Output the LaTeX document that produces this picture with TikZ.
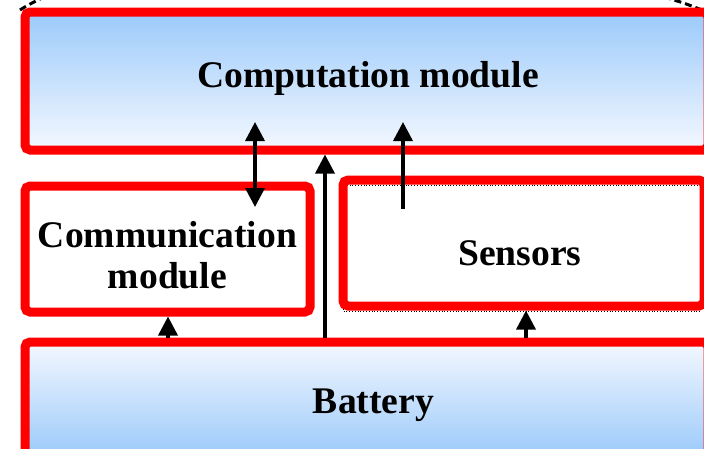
\documentclass[tikz,border=0pt]{standalone}
\usepackage{fontspec}
\setmainfont{Liberation Serif}
\usetikzlibrary{arrows.meta}
\definecolor{skyA}{RGB}{155,202,250}
\definecolor{skyB}{RGB}{244,248,255}
\begin{document}
\begin{tikzpicture}[x=1pt,y=-1pt,
  box/.style={draw=red, line width=9pt, rounded corners=5pt, inner sep=0pt},
  lbl/.style={font=\bfseries\fontsize{37.6}{41}\selectfont, inner sep=0pt, text=black},
  tip/.tip={Triangle[length=19pt,width=19pt]},
  arr/.style={line width=3.5pt, -tip},
  dashline/.style={line width=3pt, dash pattern=on 7pt off 4pt}]
\useasboundingbox (0,0) rectangle (704,448);
\clip (0,0) rectangle (704,448);
% outer dashed outline (only its corners are visible)
\draw[dashline] (20,10) .. controls (28,5) .. (44,-3);
\draw[dashline] (664,-3) .. controls (684,3) .. (702,10);
% dotted outline behind the sensors box
\draw[line width=0.8pt, dotted] (343,185.5) rectangle (700,311);
% boxes
\node[box, top color=skyA, bottom color=skyB, minimum width=683pt, minimum height=138pt] (comp) at (366.5,81) {};
\node[box, minimum width=285pt, minimum height=126pt] (comm) at (167.5,249) {};
\node[box, minimum width=361pt, minimum height=126pt] (sens) at (523.5,243) {};
\node[box, top color=skyB, bottom color=skyA, minimum width=683pt, minimum height=114.5pt] (batt) at (366.5,399.25) {};
% labels
\node[lbl, anchor=base] (tcomp) at (368,87) {Computation module};
\node[lbl, anchor=north, align=center] (tcomm) at (167.5,221.5) {Communication\\module};
\node[lbl, anchor=base] (tsens) at (520,265) {Sensors};
\node[lbl, anchor=base] (tbatt) at (373.5,413) {Battery};
% connectors
\coordinate (d1) at (255,122);
\coordinate (d2) at (255,207);
\draw[line width=3.5pt, tip-tip] (d1) -- (d2);
\coordinate (s1) at (403,209);
\coordinate (s2) at (403,122);
\draw[arr] (s1) -- (s2);
\coordinate (x325) at (325,0);
\coordinate (x168) at (168,0);
\coordinate (x526) at (526,0);
\draw[arr] (batt.north -| x325) -- (comp.south -| x325);
\draw[arr] (batt.north -| x168) -- (comm.south -| x168);
\draw[arr] (batt.north -| x526) -- (sens.south -| x526);
\end{tikzpicture}
\end{document}
